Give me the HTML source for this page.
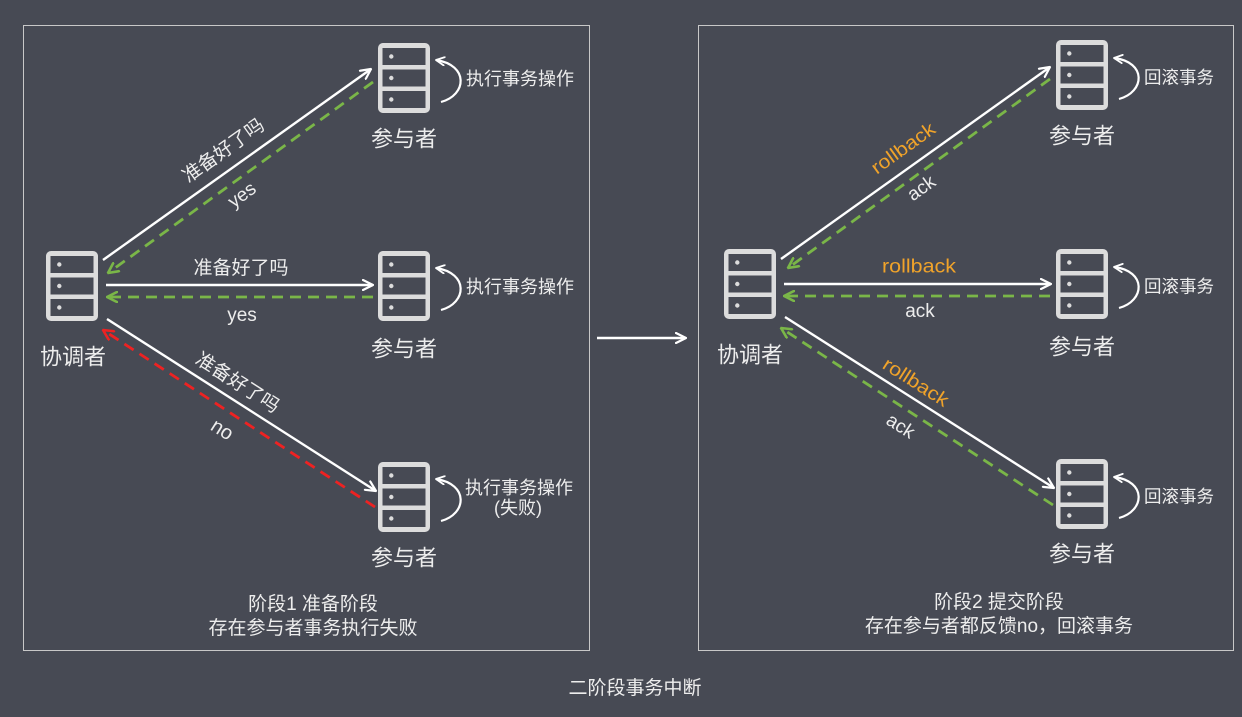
<!DOCTYPE html>
<html>
<head>
<meta charset="utf-8">
<style>
html,body{margin:0;padding:0;background:#474a54;}
svg{display:block;}
text{font-family:"Liberation Sans","Noto Sans CJK SC",sans-serif;fill:#ededed;}
</style>
</head>
<body>
<svg width="1242" height="717" viewBox="0 0 1242 717" xmlns="http://www.w3.org/2000/svg">
<defs>
  <marker id="aw" viewBox="0 0 12 12" refX="11" refY="6" markerWidth="12" markerHeight="12" markerUnits="userSpaceOnUse" orient="auto">
    <path d="M1,1 L11,6 L1,11" fill="none" stroke="#ffffff" stroke-width="2.2" stroke-linecap="round" stroke-linejoin="round"/>
  </marker>
  <marker id="aws" viewBox="0 0 12 12" refX="11" refY="6" markerWidth="10" markerHeight="10" markerUnits="userSpaceOnUse" orient="auto">
    <path d="M1,1 L11,6 L1,11" fill="none" stroke="#ffffff" stroke-width="2.2" stroke-linecap="round" stroke-linejoin="round"/>
  </marker>
  <marker id="ag" viewBox="0 0 12 12" refX="11" refY="6" markerWidth="12" markerHeight="12" markerUnits="userSpaceOnUse" orient="auto">
    <path d="M1,1 L11,6 L1,11" fill="none" stroke="#7ab648" stroke-width="2.6" stroke-linecap="round" stroke-linejoin="round"/>
  </marker>
  <marker id="ar" viewBox="0 0 12 12" refX="11" refY="6" markerWidth="12" markerHeight="12" markerUnits="userSpaceOnUse" orient="auto">
    <path d="M1,1 L11,6 L1,11" fill="none" stroke="#ee2222" stroke-width="2.6" stroke-linecap="round" stroke-linejoin="round"/>
  </marker>
  <g id="srv">
    <rect x="0" y="0" width="52" height="70" rx="5" fill="#dcdcdc"/>
    <rect x="4.5" y="5" width="43" height="17" fill="#474a54"/>
    <rect x="4.5" y="26.5" width="43" height="17" fill="#474a54"/>
    <rect x="4.5" y="48" width="43" height="17" fill="#474a54"/>
    <circle cx="13.3" cy="13.5" r="2.2" fill="#dcdcdc"/>
    <circle cx="13.3" cy="35" r="2.2" fill="#dcdcdc"/>
    <circle cx="13.3" cy="56.5" r="2.2" fill="#dcdcdc"/>
  </g>
  <path id="loop" d="M63,59 C89,52 91,22 58,17" fill="none" stroke="#ffffff" stroke-width="2.2"/>
</defs>

<!-- panels -->
<rect x="23.5" y="25.5" width="566" height="625" fill="none" stroke="#c8c8c8" stroke-width="1"/>
<rect x="698.5" y="25.5" width="535" height="625" fill="none" stroke="#c8c8c8" stroke-width="1"/>

<!-- ============ LEFT PANEL ============ -->
<use href="#srv" x="46" y="251"/>
<text x="73" y="364.4" font-size="22" text-anchor="middle">协调者</text>

<!-- participants -->
<use href="#srv" x="378" y="43"/>
<path d="M441,102 C467,95 469,65 436,60" fill="none" stroke="#fff" stroke-width="2.2" marker-end="url(#aws)"/>
<text x="466" y="84.8" font-size="18">执行事务操作</text>
<text x="404" y="146.4" font-size="22" text-anchor="middle">参与者</text>

<use href="#srv" x="378" y="251"/>
<path d="M441,310 C467,303 469,273 436,268" fill="none" stroke="#fff" stroke-width="2.2" marker-end="url(#aws)"/>
<text x="466" y="292.8" font-size="18">执行事务操作</text>
<text x="404" y="356.4" font-size="22" text-anchor="middle">参与者</text>

<use href="#srv" x="378" y="462"/>
<path d="M441,521 C467,514 469,484 436,479" fill="none" stroke="#fff" stroke-width="2.2" marker-end="url(#aws)"/>
<text x="519" y="493.8" font-size="18" text-anchor="middle">执行事务操作</text>
<text x="518" y="513.8" font-size="18" text-anchor="middle">(失败)</text>
<text x="404" y="565.4" font-size="22" text-anchor="middle">参与者</text>

<!-- connectors left -->
<line x1="103" y1="260" x2="371" y2="69" stroke="#fff" stroke-width="2.4" marker-end="url(#aw)"/>
<line x1="373" y1="82" x2="108" y2="273" stroke="#7ab648" stroke-width="2.8" stroke-dasharray="11 7" marker-end="url(#ag)"/>
<line x1="106" y1="285" x2="373" y2="285" stroke="#fff" stroke-width="2.4" marker-end="url(#aw)"/>
<line x1="373" y1="297" x2="107" y2="297" stroke="#7ab648" stroke-width="2.8" stroke-dasharray="11 7" marker-end="url(#ag)"/>
<line x1="107" y1="319" x2="376" y2="491" stroke="#fff" stroke-width="2.4" marker-end="url(#aw)"/>
<line x1="375" y1="507" x2="103" y2="330" stroke="#ee2222" stroke-width="2.8" stroke-dasharray="11 7" marker-end="url(#ar)"/>

<!-- labels left -->
<g transform="translate(223,150) rotate(-35.5)"><text x="0" y="7" font-size="19" text-anchor="middle">准备好了吗</text></g>
<g transform="translate(242,195) rotate(-36)"><text x="0" y="6" font-size="19" text-anchor="middle">yes</text></g>
<text x="241" y="274" font-size="19" text-anchor="middle">准备好了吗</text>
<text x="242" y="321" font-size="19" text-anchor="middle">yes</text>
<g transform="translate(238,382) rotate(32.5)"><text x="0" y="7" font-size="19" text-anchor="middle">准备好了吗</text></g>
<g transform="translate(222,430) rotate(32.5)"><text x="0" y="6" font-size="20" text-anchor="middle">no</text></g>

<text x="313" y="610" font-size="19" text-anchor="middle">阶段1 准备阶段</text>
<text x="313" y="634" font-size="19" text-anchor="middle">存在参与者事务执行失败</text>

<!-- middle arrow -->
<line x1="597" y1="338" x2="686" y2="338" stroke="#fff" stroke-width="2.6" marker-end="url(#aw)"/>

<!-- ============ RIGHT PANEL ============ -->
<use href="#srv" x="724" y="249"/>
<text x="750" y="362.4" font-size="22" text-anchor="middle">协调者</text>

<use href="#srv" x="1056" y="40"/>
<path d="M1119,99 C1145,92 1147,62 1114,58" fill="none" stroke="#fff" stroke-width="2.2" marker-end="url(#aws)"/>
<text x="1144" y="83.5" font-size="17.5">回滚事务</text>
<text x="1082" y="143.4" font-size="22" text-anchor="middle">参与者</text>

<use href="#srv" x="1056" y="249"/>
<path d="M1119,308 C1145,301 1147,271 1114,267" fill="none" stroke="#fff" stroke-width="2.2" marker-end="url(#aws)"/>
<text x="1144" y="292.5" font-size="17.5">回滚事务</text>
<text x="1082" y="354.4" font-size="22" text-anchor="middle">参与者</text>

<use href="#srv" x="1056" y="459"/>
<path d="M1119,518 C1145,511 1147,481 1114,477" fill="none" stroke="#fff" stroke-width="2.2" marker-end="url(#aws)"/>
<text x="1144" y="502.5" font-size="17.5">回滚事务</text>
<text x="1082" y="561.4" font-size="22" text-anchor="middle">参与者</text>

<!-- connectors right -->
<line x1="781" y1="259" x2="1050" y2="67" stroke="#fff" stroke-width="2.4" marker-end="url(#aw)"/>
<line x1="1050" y1="79" x2="788" y2="268" stroke="#7ab648" stroke-width="2.8" stroke-dasharray="11 7" marker-end="url(#ag)"/>
<line x1="784" y1="284" x2="1051" y2="284" stroke="#fff" stroke-width="2.4" marker-end="url(#aw)"/>
<line x1="1050" y1="296" x2="784" y2="296" stroke="#7ab648" stroke-width="2.8" stroke-dasharray="11 7" marker-end="url(#ag)"/>
<line x1="785" y1="317" x2="1054" y2="488" stroke="#fff" stroke-width="2.4" marker-end="url(#aw)"/>
<line x1="1053" y1="505" x2="781" y2="328" stroke="#7ab648" stroke-width="2.8" stroke-dasharray="11 7" marker-end="url(#ag)"/>

<!-- labels right -->
<g transform="translate(903,148) rotate(-35.6)"><text x="0" y="6.5" font-size="19" text-anchor="middle" textLength="74" lengthAdjust="spacingAndGlyphs" style="fill:#f0a32a">rollback</text></g>
<g transform="translate(922,189) rotate(-35.6)"><text x="0" y="5" font-size="19" text-anchor="middle">ack</text></g>
<text x="919" y="272.5" font-size="19" text-anchor="middle" textLength="74" lengthAdjust="spacingAndGlyphs" style="fill:#f0a32a">rollback</text>
<text x="920" y="317" font-size="19" text-anchor="middle">ack</text>
<g transform="translate(916,382) rotate(32.5)"><text x="0" y="6.5" font-size="19" text-anchor="middle" textLength="74" lengthAdjust="spacingAndGlyphs" style="fill:#f0a32a">rollback</text></g>
<g transform="translate(900,427) rotate(32.5)"><text x="0" y="5" font-size="19" text-anchor="middle">ack</text></g>

<text x="999" y="608" font-size="19" text-anchor="middle">阶段2 提交阶段</text>
<text x="999" y="632" font-size="19" text-anchor="middle">存在参与者都反馈no，回滚事务</text>

<!-- caption -->
<text x="635" y="694" font-size="19" text-anchor="middle">二阶段事务中断</text>
</svg>
</body>
</html>
